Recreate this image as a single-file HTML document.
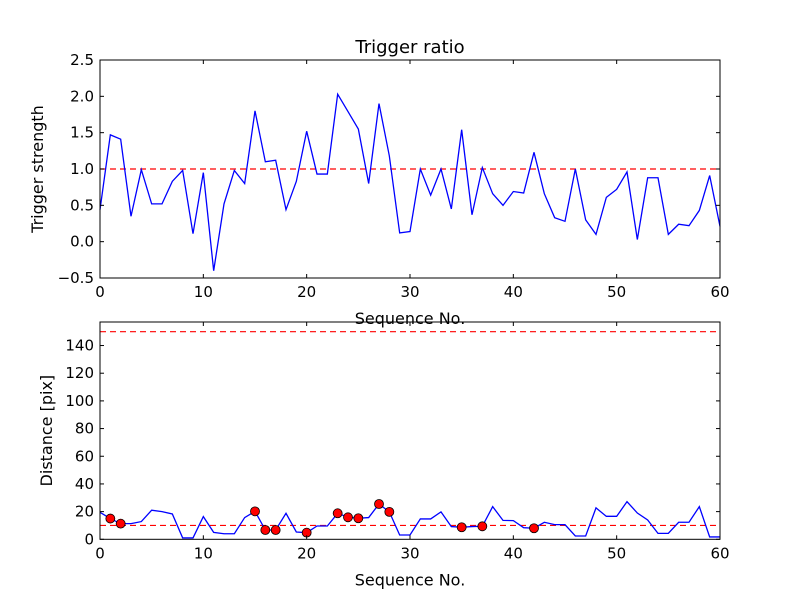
<!DOCTYPE html>
<html><head><meta charset="utf-8"><style>
body{margin:0;background:#fff;}
svg{font-family:"DejaVu Sans","Liberation Sans",sans-serif;}
</style></head><body>
<svg id="chart" width="800" height="600" xmlns="http://www.w3.org/2000/svg">
<rect width="800" height="600" fill="#fff"/>
</svg>
<script>
const xTicks=[0,10,20,30,40,50,60];
const ratioValues=[0.44,1.47,1.41,0.35,0.99,0.52,0.52,0.83,0.98,0.11,0.95,-0.40,0.52,0.98,0.80,1.80,1.10,1.12,0.44,0.83,1.52,0.93,0.93,2.03,1.79,1.55,0.80,1.90,1.18,0.12,0.14,1.0,0.64,1.0,0.45,1.54,0.37,1.02,0.66,0.50,0.69,0.67,1.23,0.66,0.33,0.28,1.0,0.30,0.10,0.61,0.72,0.96,0.03,0.88,0.88,0.10,0.24,0.22,0.43,0.91,0.21];
const ratioTicks=[-0.5,0.0,0.5,1.0,1.5,2.0,2.5];
const ratioThreshold=1.0;
const distValues=[19.5,15,11.3,11.3,12.8,21,20,18.3,1,1,16.4,5,4,4,15.7,20.2,6.7,6.7,18.8,5.3,4.8,9.6,9.6,18.8,15.9,15.2,15.7,25.5,19.8,3.1,3.1,14.7,14.7,19.8,9.2,8.7,9.2,9.4,23.6,13.7,13.5,8.4,8,12.3,10.6,10.6,2.4,2.4,22.7,16.6,16.6,27.2,19,14,4.3,4.3,12.3,12.3,23.6,1.7,1.7];
const distMarkerIdx=[1,2,15,16,17,20,23,24,25,27,28,35,37,42];
const distTicks=[0,20,40,60,80,100,120,140];
const distThresholds=[10,150];

const NS="http://www.w3.org/2000/svg";
const svg=document.getElementById('chart');
function mk(tag,attrs,parent){const e=document.createElementNS(NS,tag);for(const k in attrs)e.setAttribute(k,attrs[k]);(parent||svg).appendChild(e);return e;}
function txt(s,attrs){const e=mk('text',attrs);e.textContent=s;return e;}

function panel(name,top,bottom,ymin,ymax,yTicks,fmt,values,thresholds,markers,ylabel,title){
  const L=100,R=720;
  const sx=v=>L+(v-0)/(60-0)*(R-L);
  const sy=v=>bottom-(v-ymin)/(ymax-ymin)*(bottom-top);
  const g=mk('g',{});
  
  
  thresholds.forEach(t=>{
    const l=mk('line',{x1:L,x2:R,y1:sy(t),y2:sy(t),stroke:'#ff0000','stroke-width':1.2,'stroke-dasharray':'6,4'},g);
    
    
  });
  const pts=values.map((v,i)=>sx(i)+','+sy(v)).join(' ');
  const pl=mk('polyline',{points:pts,fill:'none',stroke:'#0000ff','stroke-width':1.3},g);
  
  
  markers.forEach(i=>{
    const c=mk('circle',{cx:sx(i),cy:sy(values[i]),r:4.5,fill:'#ff0000',stroke:'#000','stroke-width':0.8},g);
    
    
  });
  const fr=mk('rect',{x:L,y:top,width:R-L,height:bottom-top,fill:'none',stroke:'#000','stroke-width':1},g);
  
  
  xTicks.forEach(t=>{
    const x=sx(t);
    mk('line',{x1:x,x2:x,y1:bottom,y2:bottom-4,stroke:'#000'},g);
    mk('line',{x1:x,x2:x,y1:top,y2:top+4,stroke:'#000'},g);
    const e=txt(String(t),{x:x,y:bottom+19,'font-size':15,'text-anchor':'middle'});
    
    
  });
  yTicks.forEach(t=>{
    const y=sy(t);
    mk('line',{x1:L,x2:L+4,y1:y,y2:y,stroke:'#000'},g);
    mk('line',{x1:R,x2:R-4,y1:y,y2:y,stroke:'#000'},g);
    const e=txt(fmt(t),{x:L-6,y:y+5,'font-size':15,'text-anchor':'end'});
    
    
  });
  const xl=txt('Sequence No.',{x:(L+R)/2,y:bottom+46,'font-size':16,'text-anchor':'middle'});
  
  
  const yx=name==='ratio'?43:52;
  const yl=txt(ylabel,{x:yx,y:(top+bottom)/2,'font-size':16,'text-anchor':'middle',transform:`rotate(-90 ${yx} ${(top+bottom)/2})`});
  
  
  if(title){
    const t=txt(title,{x:(L+R)/2,y:top-7,'font-size':18,'text-anchor':'middle'});
    
    
  }
}
panel('ratio',60,278,-0.5,2.5,ratioTicks,v=>v.toFixed(1).replace('-','\u2212'),ratioValues,[ratioThreshold],[],'Trigger strength','Trigger ratio');
panel('distance',322,539.3,0,157,distTicks,v=>String(v),distValues,distThresholds,distMarkerIdx,'Distance [pix]',null);
</script>
</body></html>
